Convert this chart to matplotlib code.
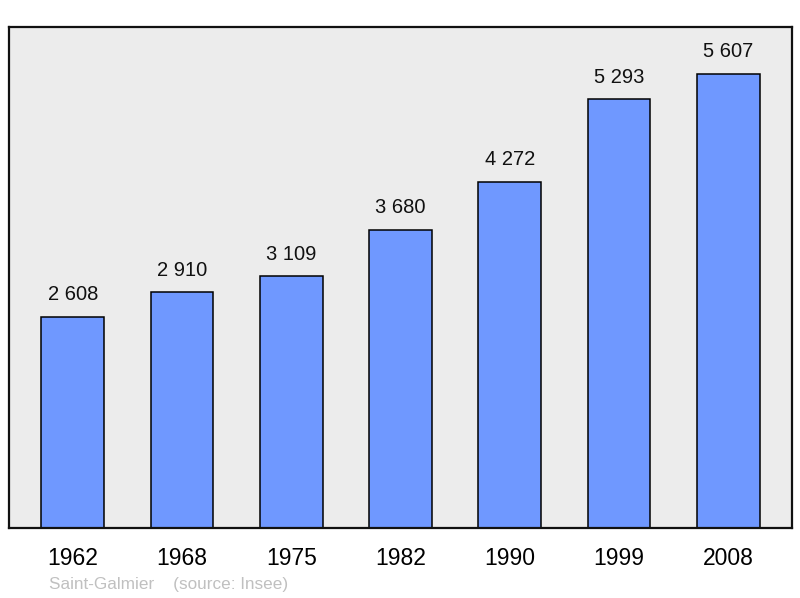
import matplotlib.pyplot as plt

years = ['1962', '1968', '1975', '1982', '1990', '1999', '2008']
population = [2608, 2910, 3109, 3680, 4272, 5293, 5607]
value_labels = ['2 608', '2 910', '3 109', '3 680', '4 272', '5 293', '5 607']

plt.rcParams['font.family'] = ['Liberation Sans', 'DejaVu Sans']

fig = plt.figure(figsize=(8, 5.98), dpi=100)
ax = fig.add_axes([9 / 800, 1 - 528 / 598, 783 / 800, 501 / 598])
ax.set_facecolor('#ececec')

x = range(len(years))
ax.bar(x, population, width=0.575, color='#6f98ff', edgecolor='black', linewidth=1.1, zorder=2)

for i, v in enumerate(population):
    ax.annotate(value_labels[i], (i, v), xytext=(0, 9), textcoords='offset points',
                ha='center', va='bottom', fontsize=14.5, color='#111111')

ax.set_xlim(-0.585, 6.585)
ax.set_ylim(0, 6185)
ax.set_xticks(list(x))
ax.set_xticklabels(years, fontsize=16.5)
ax.tick_params(axis='x', length=0, pad=14)
ax.set_yticks([])

for s in ax.spines.values():
    s.set_linewidth(1.6)
    s.set_color('#111111')

fig.text(49 / 800, 1 - 584 / 598, 'Saint-Galmier    (source: Insee)', fontsize=12.3,
         color='#c0c0c0', ha='left', va='center')

fig.savefig('out.png', dpi=100, facecolor='white')
